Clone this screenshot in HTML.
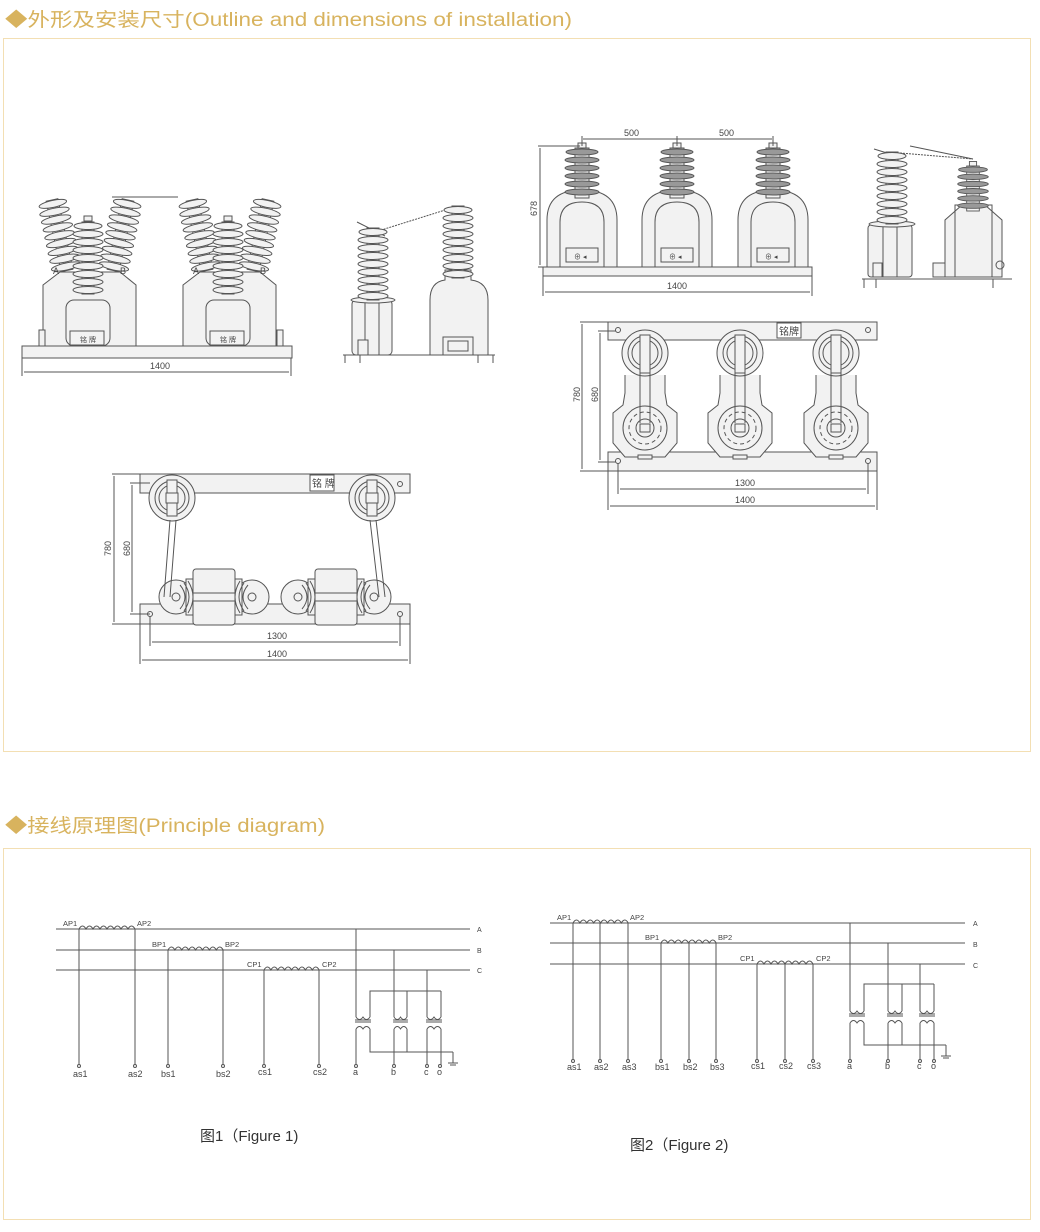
<!DOCTYPE html>
<html><head><meta charset="utf-8"><style>
html,body{margin:0;padding:0;background:#fff;width:1040px;height:1232px;overflow:hidden}
svg{display:block}
.h{font-family:"Liberation Sans","Noto Sans CJK SC",sans-serif;fill:#d8b35e;font-size:19px}
.t{font-family:"Liberation Sans","Noto Sans CJK SC",sans-serif;fill:#444;font-size:9px}
.c{font-family:"Liberation Sans","Noto Sans CJK SC",sans-serif;fill:#333;font-size:15px}
.l{stroke:#555;stroke-width:1;fill:none}
.f{stroke:#555;stroke-width:1;fill:#f2f2f2}
.g{stroke:#555;stroke-width:1;fill:#999}
</style></head><body>
<svg width="1040" height="1232" viewBox="0 0 1040 1232" xmlns="http://www.w3.org/2000/svg">
<defs>
<g id="ins">
 <rect x="-6" y="0" width="12" height="72" class="f"/>
 <ellipse cx="0" cy="4" rx="14" ry="3.5" class="f"/><ellipse cx="0" cy="12" rx="15" ry="3.5" class="f"/>
 <ellipse cx="0" cy="20" rx="15" ry="3.5" class="f"/><ellipse cx="0" cy="28" rx="15" ry="3.5" class="f"/>
 <ellipse cx="0" cy="36" rx="15" ry="3.5" class="f"/><ellipse cx="0" cy="44" rx="15" ry="3.5" class="f"/>
 <ellipse cx="0" cy="52" rx="15" ry="3.5" class="f"/><ellipse cx="0" cy="60" rx="15" ry="3.5" class="f"/>
 <ellipse cx="0" cy="68" rx="15" ry="3.5" class="f"/>
</g>
<g id="insd">
 <rect x="-4" y="-5" width="8" height="5" class="f"/>
 <rect x="-7" y="0" width="14" height="50" class="f"/>
 <ellipse cx="0" cy="4" rx="16" ry="3" class="g"/><ellipse cx="0" cy="12" rx="17" ry="3" class="g"/>
 <ellipse cx="0" cy="20" rx="17" ry="3" class="g"/><ellipse cx="0" cy="28" rx="17" ry="3" class="g"/>
 <ellipse cx="0" cy="36" rx="17" ry="3" class="g"/><ellipse cx="0" cy="44" rx="17" ry="3" class="g"/>
</g>
<g id="u1">
 <polygon points="43,285 60,272 120,272 136,285 136,346 43,346" class="f"/>
 <rect x="66" y="300" width="44" height="46" rx="8" class="f"/>
 <rect x="70" y="331" width="34" height="14" class="f"/>
 <text x="80" y="342" class="t" style="font-size:7px">铭 牌</text>
 <g transform="translate(52,200) rotate(-12)"><use href="#ins"/></g>
 <g transform="translate(128,200) rotate(12)"><use href="#ins"/></g>
 <text x="53" y="274" class="t">A</text><text x="120" y="274" class="t">B</text>
 <rect x="84" y="216" width="8" height="5" class="f"/>
 <g transform="translate(88,222)"><use href="#ins"/></g>
</g>
<g id="u3">
 <path d="M-35,148 L-35,100 Q-35,70 0,70 Q35,70 35,100 L35,148 Z" class="f"/>
 <path d="M-22,148 L-22,102 Q-22,82 0,82 Q22,82 22,102 L22,148" class="l"/>
 <rect x="-16" y="128" width="32" height="14" class="f"/>
 <text x="-8" y="139" class="t" style="font-size:7px">⊕ ◂</text>
 <use href="#insd" transform="translate(0,28)"/>
</g>
<g id="top3">
 <path d="M-20,0 L-20,18 L-22,30 L-32,38 L-32,68 L-20,82 L20,82 L32,68 L32,38 L22,30 L20,18 L20,0" class="f"/>
 <rect x="-7" y="80" width="14" height="4" class="f"/>
 <circle cx="0" cy="-22" r="23" class="f"/><circle cx="0" cy="-22" r="17" class="l"/><circle cx="0" cy="-22" r="13" class="l"/>
 <rect x="-5" y="-40" width="10" height="38" class="f"/>
 <circle cx="0" cy="53" r="22" class="f"/><circle cx="0" cy="53" r="16" class="l" stroke-dasharray="4 3"/><circle cx="0" cy="53" r="9" class="l"/>
 <rect x="-5" y="49" width="10" height="8" class="l"/>
 <line x1="-5" y1="-2" x2="-5" y2="48" class="l"/><line x1="5" y1="-2" x2="5" y2="48" class="l"/>
</g>
<g id="ct">
 <circle cx="-38" cy="0" r="17" class="f"/><circle cx="38" cy="0" r="17" class="f"/>
 <path d="M-28,-18 L28,-18 L28,18 L-28,18 Z" class="f"/>
 <rect x="-21" y="-28" width="42" height="56" rx="3" class="f"/>
 <path d="M-30,-14 Q-20,0 -30,14 M-26,-16 Q-16,0 -26,16 M-34,-12 Q-24,0 -34,12 M30,-14 Q20,0 30,14 M26,-16 Q16,0 26,16 M34,-12 Q24,0 34,12" class="l" stroke="#333"/>
 <line x1="-21" y1="-4" x2="21" y2="-4" class="l"/><line x1="-21" y1="4" x2="21" y2="4" class="l"/>
 <circle cx="-38" cy="0" r="4" class="l"/><circle cx="38" cy="0" r="4" class="l"/>
</g>
<g id="vt">
 <path d="M0,0 L0,-4 M14,0 L14,-4" class="l"/>
 <path d="M0,0 q3.5,5 7,0 q3.5,5 7,0" class="l"/>
 <line x1="-1" y1="3" x2="15" y2="3" class="l"/><line x1="-1" y1="5" x2="15" y2="5" class="l"/>
 <path d="M0,12 q3.5,-5 7,0 q3.5,-5 7,0" class="l"/>
</g>
</defs>

<!-- headers / panels -->
<text x="5" y="26" class="h" textLength="567" lengthAdjust="spacingAndGlyphs">◆外形及安装尺寸(Outline and dimensions of installation)</text>
<rect x="3.5" y="38.5" width="1027" height="713" fill="none" stroke="#f3dfb3"/>
<text x="5" y="832" class="h" textLength="320" lengthAdjust="spacingAndGlyphs">◆接线原理图(Principle diagram)</text>
<rect x="3.5" y="848.5" width="1027" height="371" fill="none" stroke="#f3dfb3"/>

<!-- drawing 1 -->
<g>
 <line x1="112" y1="197" x2="178" y2="197" class="l" stroke-width="1.5"/>
 <use href="#u1"/><use href="#u1" transform="translate(140,0)"/>
 <rect x="39" y="330" width="6" height="16" class="f"/><rect x="277" y="330" width="6" height="16" class="f"/>
 <rect x="22" y="346" width="270" height="12" class="f"/>
 <line x1="22" y1="358" x2="22" y2="376" class="l"/><line x1="291" y1="358" x2="291" y2="376" class="l"/>
 <line x1="24" y1="372" x2="289" y2="372" class="l"/>
 <text x="150" y="369" class="t">1400</text>
</g>
<!-- drawing 2 -->
<g>
 <line x1="357" y1="222" x2="385" y2="236" class="l"/><line x1="375" y1="232" x2="458" y2="206" class="l" stroke-width="2" stroke-dasharray="2 1"/>
 <rect x="352" y="300" width="40" height="55" rx="4" class="f"/>
 <rect x="365" y="300" width="14" height="55" class="l"/>
 <rect x="358" y="340" width="10" height="15" class="f"/>
 <ellipse cx="373" cy="300" rx="22" ry="3" class="f"/>
 <g transform="translate(373,228)"><use href="#ins"/></g>
 <path d="M430,355 L430,300 Q430,282 445,280 L445,270 L471,270 L471,280 Q488,282 488,300 L488,355 Z" class="f"/>
 <rect x="443" y="337" width="30" height="18" class="f"/><rect x="448" y="341" width="20" height="10" class="l"/>
 <g transform="translate(458,206)"><use href="#ins"/></g>
 <line x1="343" y1="355" x2="495" y2="355" class="l" stroke-width="1.5"/>
 <line x1="345" y1="355" x2="345" y2="363" class="l"/><line x1="360" y1="355" x2="360" y2="363" class="l"/>
 <line x1="478" y1="355" x2="478" y2="363" class="l"/><line x1="493" y1="355" x2="493" y2="363" class="l"/>
</g>
<!-- drawing 3 -->
<g>
 <use href="#u3" transform="translate(582,120)"/>
 <use href="#u3" transform="translate(677,120)"/>
 <use href="#u3" transform="translate(773,120)"/>
 <rect x="543" y="267" width="269" height="9" class="f"/>
 <line x1="538" y1="146" x2="580" y2="146" class="l"/><line x1="538" y1="267" x2="543" y2="267" class="l"/>
 <line x1="540" y1="148" x2="540" y2="265" class="l"/>
 <text x="537" y="216" class="t" transform="rotate(-90 537 216)">678</text>
 <line x1="582" y1="136" x2="582" y2="146" class="l"/><line x1="677" y1="136" x2="677" y2="146" class="l"/><line x1="773" y1="136" x2="773" y2="146" class="l"/>
 <line x1="583" y1="139" x2="772" y2="139" class="l"/>
 <text x="624" y="136" class="t">500</text><text x="719" y="136" class="t">500</text>
 <line x1="543" y1="276" x2="543" y2="296" class="l"/><line x1="812" y1="276" x2="812" y2="296" class="l"/>
 <line x1="545" y1="292" x2="810" y2="292" class="l"/>
 <text x="667" y="289" class="t">1400</text>
</g>
<!-- drawing 4 -->
<g>
 <line x1="874" y1="149" x2="900" y2="157" class="l"/><line x1="900" y1="153" x2="973" y2="159" class="l" stroke-width="2" stroke-dasharray="2 1"/><line x1="910" y1="146" x2="973" y2="159" class="l"/>
 <rect x="868" y="225" width="44" height="52" rx="3" class="f"/><rect x="883" y="225" width="14" height="52" class="l"/>
 <rect x="873" y="263" width="9" height="14" class="f"/>
 <ellipse cx="892" cy="224" rx="23" ry="3" class="f"/>
 <g transform="translate(892,152)"><use href="#ins"/></g>
 <path d="M945,277 L945,220 L962,205 L985,205 L1002,220 L1002,277 Z" class="f"/>
 <rect x="955" y="205" width="37" height="72" class="l"/>
 <rect x="933" y="263" width="12" height="14" class="f"/>
 <circle cx="1000" cy="265" r="4" class="l"/>
 <use href="#insd" transform="translate(973,166) scale(0.9)"/>
 <line x1="862" y1="279" x2="1012" y2="279" class="l" stroke-width="1.5"/>
 <line x1="864" y1="279" x2="864" y2="288" class="l"/><line x1="876" y1="279" x2="876" y2="288" class="l"/>
 <line x1="993" y1="279" x2="993" y2="288" class="l"/>
</g>
<!-- drawing 5 -->
<g>
 <rect x="608" y="322" width="269" height="18" class="f"/>
 <rect x="608" y="452" width="269" height="19" class="f"/>
 <use href="#top3" transform="translate(645,375)"/>
 <use href="#top3" transform="translate(740,375)"/>
 <use href="#top3" transform="translate(836,375)"/>
 <rect x="777" y="323" width="24" height="15" fill="#fff" stroke="#555"/>
 <text x="779" y="335" class="t" style="font-size:10px">铭牌</text>
 <circle cx="618" cy="330" r="2.5" class="l"/><circle cx="868" cy="330" r="2.5" class="l"/>
 <circle cx="618" cy="461" r="2.5" class="l"/><circle cx="868" cy="461" r="2.5" class="l"/>
 <line x1="580" y1="322" x2="608" y2="322" class="l"/><line x1="580" y1="471" x2="608" y2="471" class="l"/>
 <line x1="582" y1="324" x2="582" y2="469" class="l"/>
 <text x="580" y="402" class="t" transform="rotate(-90 580 402)">780</text>
 <line x1="598" y1="331" x2="616" y2="331" class="l"/><line x1="598" y1="462" x2="616" y2="462" class="l"/>
 <line x1="600" y1="333" x2="600" y2="460" class="l"/>
 <text x="598" y="402" class="t" transform="rotate(-90 598 402)">680</text>
 <line x1="618" y1="463" x2="618" y2="494" class="l"/><line x1="868" y1="463" x2="868" y2="494" class="l"/>
 <line x1="620" y1="489" x2="866" y2="489" class="l"/><text x="735" y="486" class="t">1300</text>
 <line x1="608" y1="471" x2="608" y2="510" class="l"/><line x1="877" y1="471" x2="877" y2="510" class="l"/>
 <line x1="610" y1="506" x2="875" y2="506" class="l"/><text x="735" y="503" class="t">1400</text>
</g>
<!-- drawing 6 -->
<g>
 <rect x="140" y="474" width="270" height="19" class="f"/>
 <rect x="140" y="604" width="270" height="20" class="f"/>
 <use href="#ct" transform="translate(214,597)"/>
 <use href="#ct" transform="translate(336,597)"/>
 <circle cx="172" cy="498" r="23" class="f"/><circle cx="172" cy="498" r="17" class="l"/><circle cx="172" cy="498" r="13" class="l"/>
 <rect x="167" y="480" width="10" height="36" class="f"/><rect x="166" y="493" width="12" height="10" class="f"/>
 <circle cx="372" cy="498" r="23" class="f"/><circle cx="372" cy="498" r="17" class="l"/><circle cx="372" cy="498" r="13" class="l"/>
 <rect x="367" y="480" width="10" height="36" class="f"/><rect x="366" y="493" width="12" height="10" class="f"/>
 <path d="M170,520 L164,597 M176,520 L170,597" class="l"/>
 <path d="M370,520 L379,597 M376,520 L385,597" class="l"/>
 <rect x="310" y="475" width="24" height="16" fill="#fff" stroke="#555"/>
 <text x="312" y="487" class="t" style="font-size:10px">铭 牌</text>
 <circle cx="400" cy="484" r="2.5" class="l"/><circle cx="150" cy="614" r="2.5" class="l"/><circle cx="400" cy="614" r="2.5" class="l"/>
 <line x1="112" y1="474" x2="140" y2="474" class="l"/><line x1="112" y1="624" x2="140" y2="624" class="l"/>
 <line x1="114" y1="476" x2="114" y2="622" class="l"/>
 <text x="111" y="556" class="t" transform="rotate(-90 111 556)">780</text>
 <line x1="130" y1="483" x2="150" y2="483" class="l"/><line x1="130" y1="614" x2="150" y2="614" class="l"/>
 <line x1="132" y1="485" x2="132" y2="612" class="l"/>
 <text x="130" y="556" class="t" transform="rotate(-90 130 556)">680</text>
 <line x1="150" y1="616" x2="150" y2="646" class="l"/><line x1="400" y1="616" x2="400" y2="646" class="l"/>
 <line x1="152" y1="642" x2="398" y2="642" class="l"/><text x="267" y="639" class="t">1300</text>
 <line x1="140" y1="624" x2="140" y2="664" class="l"/><line x1="410" y1="624" x2="410" y2="664" class="l"/>
 <line x1="142" y1="660" x2="408" y2="660" class="l"/><text x="267" y="657" class="t">1400</text>
</g>

<!-- Figure 1 -->
<g style="font-size:8px">
 <line x1="56" y1="929" x2="470" y2="929" class="l"/><line x1="56" y1="950" x2="470" y2="950" class="l"/><line x1="56" y1="970" x2="470" y2="970" class="l"/>
 <text x="477" y="932" class="t" style="font-size:7px">A</text><text x="477" y="953" class="t" style="font-size:7px">B</text><text x="477" y="973" class="t" style="font-size:7px">C</text>
 <path d="M79,929 q3.5,-6 7,0 q3.5,-6 7,0 q3.5,-6 7,0 q3.5,-6 7,0 q3.5,-6 7,0 q3.5,-6 7,0 q3.5,-6 7,0 q3.5,-6 7,0" class="l"/>
 <path d="M168,950 q3.4,-6 6.9,0 q3.4,-6 6.9,0 q3.4,-6 6.9,0 q3.4,-6 6.9,0 q3.4,-6 6.9,0 q3.4,-6 6.9,0 q3.4,-6 6.9,0 q3.4,-6 6.9,0" class="l"/>
 <path d="M264,970 q3.4,-6 6.9,0 q3.4,-6 6.9,0 q3.4,-6 6.9,0 q3.4,-6 6.9,0 q3.4,-6 6.9,0 q3.4,-6 6.9,0 q3.4,-6 6.9,0 q3.4,-6 6.9,0" class="l"/>
 <path d="M79,929 V1065 M135,929 V1065 M168,950 V1065 M223,950 V1065 M264,970 V1065 M319,970 V1065" class="l"/>
 <g fill="#fff" stroke="#555"><circle cx="79" cy="1066" r="1.5"/><circle cx="135" cy="1066" r="1.5"/><circle cx="168" cy="1066" r="1.5"/><circle cx="223" cy="1066" r="1.5"/><circle cx="264" cy="1066" r="1.5"/><circle cx="319" cy="1066" r="1.5"/><circle cx="356" cy="1066" r="1.5"/><circle cx="394" cy="1066" r="1.5"/><circle cx="427" cy="1066" r="1.5"/><circle cx="440" cy="1066" r="1.5"/></g>
 <text x="63" y="926" class="t" style="font-size:7.5px">AP1</text><text x="137" y="926" class="t" style="font-size:7.5px">AP2</text>
 <text x="152" y="947" class="t" style="font-size:7.5px">BP1</text><text x="225" y="947" class="t" style="font-size:7.5px">BP2</text>
 <text x="247" y="967" class="t" style="font-size:7.5px">CP1</text><text x="322" y="967" class="t" style="font-size:7.5px">CP2</text>
 <text x="73" y="1077" class="t">as1</text><text x="128" y="1077" class="t">as2</text><text x="161" y="1077" class="t">bs1</text><text x="216" y="1077" class="t">bs2</text><text x="258" y="1075" class="t">cs1</text><text x="313" y="1075" class="t">cs2</text>
 <text x="353" y="1075" class="t">a</text><text x="391" y="1075" class="t">b</text><text x="424" y="1075" class="t">c</text><text x="437" y="1075" class="t">o</text>
 <path d="M356,929 V1017 M394,950 V1017 M427,970 V1017 M370,1017 V991 H441 M407,1017 V991 M441,1017 V991 M356,1029 V1065 M394,1029 V1065 M427,1029 V1065 M370,1029 V1052 H453 M407,1029 V1052 M441,1029 V1065 M453,1052 V1063 M448,1063 H458 M450,1065 H456" class="l"/>
 <use href="#vt" transform="translate(356,1017)"/><use href="#vt" transform="translate(394,1017) scale(0.93,1)"/><use href="#vt" transform="translate(427,1017)"/>
</g>
<text x="200" y="1141" class="c">图1（Figure 1)</text>

<!-- Figure 2 -->
<g>
 <line x1="550" y1="923" x2="965" y2="923" class="l"/><line x1="550" y1="943" x2="965" y2="943" class="l"/><line x1="550" y1="964" x2="965" y2="964" class="l"/>
 <text x="973" y="926" class="t" style="font-size:7px">A</text><text x="973" y="947" class="t" style="font-size:7px">B</text><text x="973" y="968" class="t" style="font-size:7px">C</text>
 <path d="M573,923 q3.5,-6 6.9,0 q3.5,-6 6.9,0 q3.5,-6 6.9,0 q3.5,-6 6.9,0 q3.5,-6 6.9,0 q3.5,-6 6.9,0 q3.5,-6 6.9,0 q3.5,-6 6.9,0" class="l"/>
 <path d="M661,943 q3.4,-6 6.9,0 q3.4,-6 6.9,0 q3.4,-6 6.9,0 q3.4,-6 6.9,0 q3.4,-6 6.9,0 q3.4,-6 6.9,0 q3.4,-6 6.9,0 q3.4,-6 6.9,0" class="l"/>
 <path d="M757,964 q3.5,-6 7,0 q3.5,-6 7,0 q3.5,-6 7,0 q3.5,-6 7,0 q3.5,-6 7,0 q3.5,-6 7,0 q3.5,-6 7,0 q3.5,-6 7,0" class="l"/>
 <path d="M573,923 V1060 M600,923 V1060 M628,923 V1060 M661,943 V1060 M689,943 V1060 M716,943 V1060 M757,964 V1060 M785,964 V1060 M813,964 V1060" class="l"/>
 <g fill="#fff" stroke="#555"><circle cx="573" cy="1061" r="1.5"/><circle cx="600" cy="1061" r="1.5"/><circle cx="628" cy="1061" r="1.5"/><circle cx="661" cy="1061" r="1.5"/><circle cx="689" cy="1061" r="1.5"/><circle cx="716" cy="1061" r="1.5"/><circle cx="757" cy="1061" r="1.5"/><circle cx="785" cy="1061" r="1.5"/><circle cx="813" cy="1061" r="1.5"/><circle cx="850" cy="1061" r="1.5"/><circle cx="888" cy="1061" r="1.5"/><circle cx="920" cy="1061" r="1.5"/><circle cx="934" cy="1061" r="1.5"/></g>
 <text x="557" y="920" class="t" style="font-size:7.5px">AP1</text><text x="630" y="920" class="t" style="font-size:7.5px">AP2</text>
 <text x="645" y="940" class="t" style="font-size:7.5px">BP1</text><text x="718" y="940" class="t" style="font-size:7.5px">BP2</text>
 <text x="740" y="961" class="t" style="font-size:7.5px">CP1</text><text x="816" y="961" class="t" style="font-size:7.5px">CP2</text>
 <text x="567" y="1070" class="t">as1</text><text x="594" y="1070" class="t">as2</text><text x="622" y="1070" class="t">as3</text>
 <text x="655" y="1070" class="t">bs1</text><text x="683" y="1070" class="t">bs2</text><text x="710" y="1070" class="t">bs3</text>
 <text x="751" y="1069" class="t">cs1</text><text x="779" y="1069" class="t">cs2</text><text x="807" y="1069" class="t">cs3</text>
 <text x="847" y="1069" class="t">a</text><text x="885" y="1069" class="t">b</text><text x="917" y="1069" class="t">c</text><text x="931" y="1069" class="t">o</text>
 <path d="M850,923 V1011 M888,943 V1011 M920,964 V1011 M864,1011 V984 H934 M902,1011 V984 M934,1011 V984 M850,1023 V1060 M888,1023 V1060 M920,1023 V1060 M864,1023 V1045 H946 M902,1023 V1045 M934,1023 V1060 M946,1045 V1056 M941,1056 H951 M943,1058 H949" class="l"/>
 <use href="#vt" transform="translate(850,1011)"/><use href="#vt" transform="translate(888,1011)"/><use href="#vt" transform="translate(920,1011)"/>
</g>
<text x="630" y="1150" class="c">图2（Figure 2)</text>
</svg>
</body></html>
